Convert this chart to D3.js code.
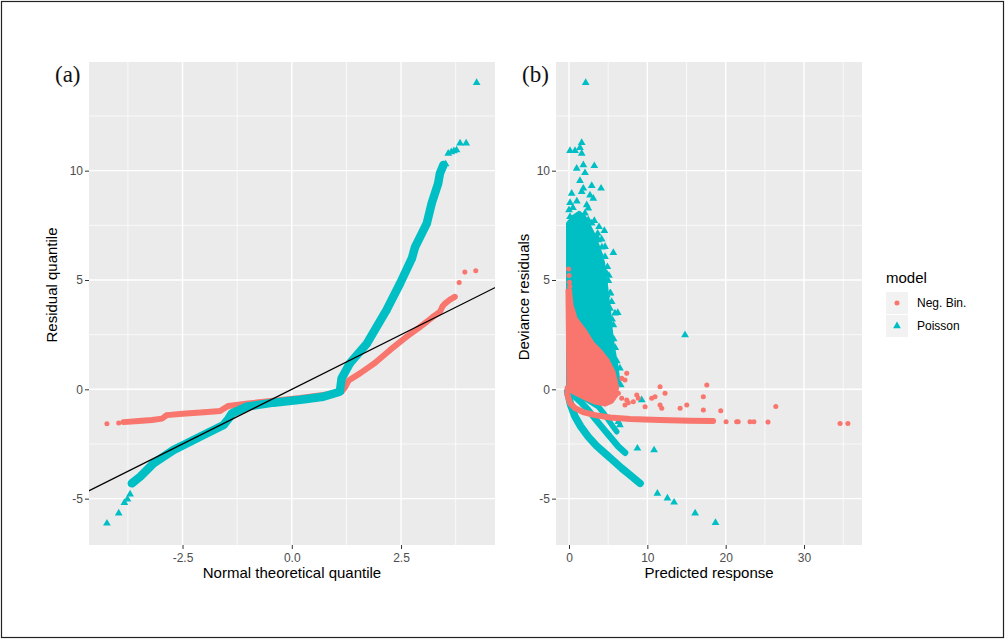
<!DOCTYPE html>
<html>
<head>
<meta charset="utf-8">
<script src="https://cdn.jsdelivr.net/npm/d3@7"></script>
<style>
body { margin: 0; background: #fff; }
text { font-family: "Liberation Sans", Arial, sans-serif; }
</style>
</head>
<body>
<svg id="fig" width="1006" height="640"></svg>
<script>
// ---- data ----
let modelNames = ["Neg. Bin.", "Poisson"];
let colors = ["#F8766D", "#00BFC4"];

// (a) QQ plot, dense stretches [theoretical, residual]
let qqNegBin = [[-3.85,-1.50],[-3.5,-1.45],[-3.2,-1.40],[-2.97,-1.34],[-2.90,-1.24],[-2.86,-1.18],[-2.5,-1.12],[-2.0,-1.05],[-1.64,-0.99],[-1.55,-0.88],[-1.45,-0.76],[-1.0,-0.65],[-0.42,-0.52],[0.2,-0.40],[0.72,-0.26],[1.14,-0.11],[1.22,0.10],[1.30,0.40],[1.56,0.73],[1.9,1.20],[2.25,1.80],[2.63,2.41],[2.9,2.80],[3.09,3.09],[3.25,3.35],[3.39,3.55],[3.45,3.80],[3.51,3.93],[3.62,4.10],[3.73,4.23]];
let qqNegBinTail = [[-4.23,-1.57],[-3.96,-1.54],[3.83,4.88],[3.96,5.36],[4.21,5.42]];
let qqPoisson = [[-3.66,-4.30],[-3.47,-4.00],[-3.16,-3.38],[-2.71,-2.78],[-2.10,-2.17],[-1.56,-1.63],[-1.45,-1.35],[-1.37,-1.10],[-1.03,-0.79],[-0.42,-0.61],[0.2,-0.48],[0.72,-0.34],[1.10,-0.11],[1.14,0.50],[1.33,1.19],[1.72,2.10],[2.17,3.63],[2.48,4.85],[2.75,6.0],[2.82,6.5],[3.09,7.59],[3.20,8.50],[3.35,9.42],[3.39,9.88],[3.47,10.26]];
let qqPoissonTail = [[-4.23,-6.13],[-3.96,-5.67],[-3.83,-5.19],[-3.76,-5.03],[-3.70,-4.80],[3.52,10.30],[3.58,10.79],[3.65,10.85],[3.71,10.90],[3.77,10.94],[3.85,11.25],[3.99,11.25],[4.23,14.02]];
let refLine = [[-5, -5], [5, 5]];

// (b) residuals vs predicted [predicted, deviance residual]
let poissonCloud = [[-0.19,7.6],[0.5,7.9],[1.3,8.1],[2.0,7.9],[2.6,7.5],[3.3,7.0],[3.9,6.4],[4.4,5.8],[4.7,5.1],[4.9,4.4],[5.2,3.5],[5.4,2.7],[5.7,1.9],[6.1,1.1],[6.39,0.33],[6.00,-0.12],[-0.19,-0.12]];
let poissonBandA = [[-0.17,-0.11],[0.2,-0.7],[0.77,-1.25],[1.5,-1.7],[2.46,-2.17],[3.5,-2.58],[4.6,-2.93],[5.7,-3.28],[6.73,-3.61],[8.0,-3.98],[9.07,-4.30]];
let poissonBandB = [[0.3,-0.1],[0.55,-0.26],[1.4,-0.55],[2.46,-0.95],[3.3,-1.33],[4.17,-1.71],[5.2,-2.15],[6.3,-2.62],[7.15,-2.9]];
let poissonBandC = [[0.9,-0.15],[1.19,-0.26],[2.5,-0.52],[3.74,-0.79],[4.4,-1.08],[5.02,-1.40],[5.6,-1.70],[6.09,-1.94]];
let poissonPoints = [[2.13,14.02],[1.62,11.28],[1.40,11.05],[0.13,10.91],[0.77,10.91],[1.62,10.79],[0.98,10.10],[1.83,10.26],[2.04,9.90],[3.23,10.22],[1.40,9.54],[2.90,9.31],[4.09,9.19],[0.34,8.96],[1.62,9.04],[1.83,9.19],[2.68,8.88],[3.10,8.73],[0.13,8.53],[2.26,8.43],[2.46,8.28],[2.04,8.05],[0.13,7.89],[0.77,7.74],[1.19,7.59],[2.46,7.74],[2.04,7.43],[3.23,7.71],[3.83,7.43],[4.51,7.25],[3.66,7.13],[4.17,6.86],[3.74,6.83],[4.60,6.52],[3.96,6.22],[5.66,6.25],[4.60,6.06],[4.17,5.61],[4.81,5.30],[4.9,5.6],[5.1,5.2],[5.02,4.97],[5.3,4.4],[5.24,4.39],[5.45,4.01],[4.81,4.31],[5.24,3.70],[5.87,3.48],[6.22,3.50],[5.5,3.2],[5.66,2.94],[5.7,2.3],[5.9,1.9],[6.1,1.3],[6.5,0.96],[6.6,0.2],[4.2,6.5],[3.5,7.0],[2.9,7.6],[0.0,8.2],[0.5,8.3],[1.0,8.6],[14.81,2.48],[9.28,-0.49],[6.3,-1.48],[6.5,-1.63],[8.73,-2.70],[10.86,-2.78],[11.28,-4.76],[12.56,-4.98],[13.41,-5.17],[16.1,-5.67],[18.7,-6.1]];
let negBinBlob = [[-0.26,4.54],[0.19,4.54],[0.38,3.86],[0.89,3.26],[2.04,2.71],[3.07,2.12],[3.96,1.80],[4.98,1.34],[5.75,0.80],[6.13,0.20],[6.13,-0.26],[5.49,-0.58],[4.60,-0.72],[3.32,-0.63],[2.04,-0.44],[0.77,-0.21],[-0.13,-0.03]];
let negBinBand = [[-0.17,0.06],[-0.19,-0.26],[0.13,-0.63],[0.77,-0.86],[1.79,-1.04],[3.32,-1.18],[5.24,-1.29],[7.79,-1.36],[11.62,-1.40],[15.45,-1.44],[18.39,-1.45]];
let negBinPoints = [[-0.05,5.5],[0.0,5.2],[0.05,4.9],[0.1,4.7],[7.37,0.73],[6.73,0.50],[7.15,0.43],[6.09,0.12],[6.30,-0.18],[6.73,-0.41],[7.37,-0.49],[8.21,-0.57],[8.65,-0.26],[8.85,-0.41],[7.15,-0.72],[7.57,-0.61],[9.71,-0.80],[10.56,-0.41],[10.98,-0.34],[11.62,0.12],[12.26,-0.18],[11.62,-0.72],[11.84,-0.87],[14.18,-0.87],[15.03,-0.72],[17.15,-0.34],[17.59,0.20],[17.15,-0.95],[19.37,-0.98],[20.05,-1.48],[21.4,-1.48],[21.6,-1.48],[23.1,-1.48],[23.6,-1.48],[25.4,-1.50],[26.4,-0.79],[34.6,-1.56],[35.6,-1.56]];

// axes
let yDomain = [-7.12, 14.97];
let yTicks = [-5, 0, 5, 10];
let yTickLabels = ["-5", "0", "5", "10"];
let yMinor = [-2.5, 2.5, 7.5, 12.5];
let xDomainA = [-4.64, 4.65];
let xTicksA = [-2.5, 0, 2.5];
let xTickLabelsA = ["-2.5", "0.0", "2.5"];
let xMinorA = [-3.75, -1.25, 1.25, 3.75];
let xDomainB = [-1.66, 37.4];
let xTicksB = [0, 10, 20, 30];
let xTickLabelsB = ["0", "10", "20", "30"];
let xMinorB = [5, 15, 25, 35];

// ---- drawing ----
let svg = d3.select("#fig");
let top_ = 62, bottom = 545;

svg.append("rect")
  .attr("x", 1.5).attr("y", 1.5).attr("width", 1002).attr("height", 636)
  .attr("fill", "none").attr("stroke", "#222").attr("stroke-width", 1.2);

let makePanel = (id, left, right, xDomain, xTicks, xLabels, xMinor, xTitle, yTitle, yTitleX, yTitleY, tag) => {
  let x = d3.scaleLinear().domain(xDomain).range([left, right]);
  let y = d3.scaleLinear().domain(yDomain).range([bottom, top_]);
  let g = svg.append("g");

  g.append("rect").attr("x", left).attr("y", top_)
    .attr("width", right - left).attr("height", bottom - top_).attr("fill", "#EBEBEB");

  xMinor.forEach(v => g.append("line").attr("x1", x(v)).attr("x2", x(v)).attr("y1", top_).attr("y2", bottom)
    .attr("stroke", "#fff").attr("stroke-width", 0.7));
  yMinor.forEach(v => g.append("line").attr("y1", y(v)).attr("y2", y(v)).attr("x1", left).attr("x2", right)
    .attr("stroke", "#fff").attr("stroke-width", 0.7));
  xTicks.forEach(v => g.append("line").attr("x1", x(v)).attr("x2", x(v)).attr("y1", top_).attr("y2", bottom)
    .attr("stroke", "#fff").attr("stroke-width", 1.4));
  yTicks.forEach(v => g.append("line").attr("y1", y(v)).attr("y2", y(v)).attr("x1", left).attr("x2", right)
    .attr("stroke", "#fff").attr("stroke-width", 1.4));

  let xAxis = g.append("g").attr("transform", `translate(0, ${bottom})`)
    .call(d3.axisBottom(x).tickValues(xTicks).tickFormat((d, i) => xLabels[i]).tickSize(4).tickPadding(4));
  let yAxis = g.append("g").attr("transform", `translate(${left}, 0)`)
    .call(d3.axisLeft(y).tickValues(yTicks).tickFormat((d, i) => yTickLabels[i]).tickSize(4).tickPadding(2));
  [xAxis, yAxis].forEach(a => {
    a.select(".domain").remove();
    a.selectAll("line").attr("stroke", "#333");
    a.selectAll("text").attr("fill", "#4D4D4D").style("font-size", "12px")
      .style("font-family", "'Liberation Sans', Arial, sans-serif");
  });

  g.append("text").attr("x", (left + right) / 2).attr("y", 578).attr("text-anchor", "middle")
    .style("font-size", "15px").attr("fill", "#000").text(xTitle);
  g.append("text").attr("transform", `translate(${yTitleX}, ${yTitleY}) rotate(-90)`)
    .attr("text-anchor", "middle").style("font-size", "15px").attr("fill", "#000").text(yTitle);
  g.append("text").attr("x", tag.x).attr("y", 82)
    .style("font-family", "'Liberation Serif', 'Times New Roman', serif").style("font-size", "23px")
    .attr("fill", "#111").text(tag.text);

  svg.append("clipPath").attr("id", id).append("rect")
    .attr("x", left).attr("y", top_).attr("width", right - left).attr("height", bottom - top_);
  let plot = svg.append("g").attr("clip-path", `url(#${id})`);
  return { x, y, plot };
};

let tri = d3.symbol().type(d3.symbolTriangle).size(26);
let dot = d3.symbol().type(d3.symbolCircle).size(20);

let drawPath = (p, data, color, w, closed) => {
  let line = d3.line().x(d => p.x(d[0])).y(d => p.y(d[1]))
    .curve(closed ? d3.curveLinearClosed : d3.curveLinear);
  p.plot.append("path").attr("d", line(data))
    .attr("fill", closed ? color : "none").attr("stroke", color)
    .attr("stroke-width", w).attr("stroke-linejoin", "round").attr("stroke-linecap", "round");
};
let drawPoints = (p, data, color, sym) => {
  p.plot.selectAll(null).data(data).enter().append("path")
    .attr("d", sym).attr("fill", color)
    .attr("transform", d => `translate(${p.x(d[0])}, ${p.y(d[1])})`);
};

// panel (a)
let pa = makePanel("clipA", 89, 495, xDomainA, xTicksA, xTickLabelsA, xMinorA,
  "Normal theoretical quantile", "Residual quantile", 57, 285, { x: 55, text: "(a)" });
drawPath(pa, qqNegBin, colors[0], 6, false);
drawPoints(pa, qqNegBin, colors[0], dot);
drawPoints(pa, qqNegBinTail, colors[0], dot);
drawPath(pa, qqPoisson, colors[1], 8.5, false);
drawPoints(pa, qqPoisson, colors[1], tri);
drawPoints(pa, qqPoissonTail, colors[1], tri);
drawPath(pa, refLine, "#000", 1.2, false);

// panel (b)
let pb = makePanel("clipB", 556, 862, xDomainB, xTicksB, xTickLabelsB, xMinorB,
  "Predicted response", "Deviance residuals", 529, 297, { x: 522, text: "(b)" });
drawPath(pb, poissonCloud, colors[1], 3, true);
drawPath(pb, poissonBandA, colors[1], 7.5, false);
drawPath(pb, poissonBandB, colors[1], 6.5, false);
drawPath(pb, poissonBandC, colors[1], 5.5, false);
drawPoints(pb, poissonPoints, colors[1], tri);
drawPath(pb, negBinBlob, colors[0], 3, true);
drawPath(pb, negBinBand, colors[0], 6, false);
drawPoints(pb, negBinPoints, colors[0], dot);

// legend
let legend = svg.append("g").attr("transform", "translate(886, 0)");
legend.append("text").attr("x", 0).attr("y", 283).style("font-size", "15px").attr("fill", "#000").text("model");
modelNames.forEach((name, i) => {
  let ky = 292 + i * 23;
  legend.append("rect").attr("x", 0).attr("y", ky).attr("width", 22).attr("height", 22).attr("fill", "#F2F2F2");
  legend.append("path").attr("d", i === 0 ? dot() : tri()).attr("fill", colors[i])
    .attr("transform", `translate(11, ${ky + 11})`);
  legend.append("text").attr("x", 31).attr("y", ky + 11).attr("dy", "0.35em")
    .style("font-size", "12px").attr("fill", "#000").text(name);
});
</script>
</body>
</html>
